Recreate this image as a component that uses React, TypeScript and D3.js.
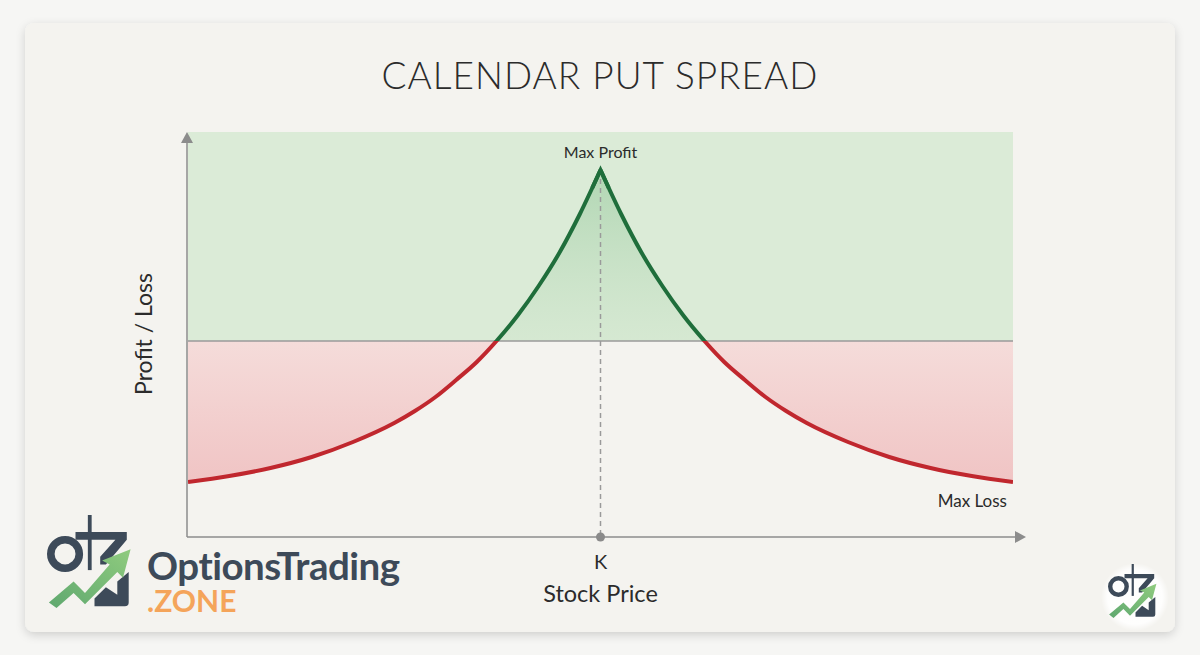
import React from "react";
import * as d3 from "d3";

// ---- Data ----
const title = "CALENDAR PUT SPREAD";
const strike = 100;
const priceDomain = [50, 150];
const plDomain = [-1.96, 2.09];

// Left wing of the P/L curve
const leftPrices = [50, 55, 60, 65, 70, 75, 77.5, 80, 82.5, 85, 87.5, 90, 92.5, 95, 97.5, 100];
const leftPL = [-1.41, -1.35, -1.27, -1.16, -1.01, -0.82, -0.7, -0.56, -0.39, -0.21, 0.01, 0.26, 0.55, 0.88, 1.27, 1.71];
// Right wing
const rightPrices = [100, 102.5, 105, 107.5, 110, 112.5, 115, 117.5, 120, 122.5, 125, 130, 135, 140, 145, 150];
const rightPL = [1.71, 1.27, 0.88, 0.55, 0.26, 0.01, -0.21, -0.39, -0.56, -0.7, -0.82, -1.01, -1.16, -1.27, -1.35, -1.41];

const labels = {
  yAxis: "Profit / Loss",
  xAxis: "Stock Price",
  strike: "K",
  maxProfit: "Max Profit",
  maxLoss: "Max Loss",
  brand1: "OptionsTrading",
  brand2: ".ZONE",
};

const FONT = "Lato, 'Open Sans', sans-serif";

function Logo({ x, y, s, id }: { x: number; y: number; s: number; id: string }) {
  return (
    <g transform={`translate(${x},${y}) scale(${s})`}>
      <defs>
        <linearGradient id={`arrowG${id}`} x1="0" y1="1" x2="1" y2="0">
          <stop offset="0" stopColor="#5fa86f" />
          <stop offset="1" stopColor="#8fcb7e" />
        </linearGradient>
      </defs>
      {/* stem */}
      <rect x={43} y={0} width={4} height={58} fill="#3d4a59" />
      {/* O */}
      <ellipse cx={19} cy={41} rx={15} ry={15} fill="none" stroke="#3d4a59" strokeWidth={8} />
      {/* top bar + Z */}
      <path d="M30 18 L84 18 L84 26 L62 52 L56 52 L56 44 L72 26 L30 26 Z" fill="#3d4a59" />
      {/* dark base */}
      <path d="M50 96 L82 96 Q86 96 86 92 L86 60 L74 70 L74 84 L62 76 L50 88 Z" fill="#3d4a59" />
      {/* green arrow */}
      <path
        d="M2 92 L28 70 L40 82 L66 52 L58 48 L88 36 L80 66 L74 60 L40 94 L28 82 L10 98 Z"
        fill={`url(#arrowG${id})`}
      />
    </g>
  );
}

export default function App() {
  const W = 1200;
  const H = 655;
  const x = d3.scaleLinear().domain(priceDomain).range([188, 1013]);
  const y = d3.scaleLinear().domain(plDomain).range([537, 132]);
  const y0 = y(0);

  const left = leftPrices.map((p, i) => [p, leftPL[i]] as [number, number]);
  const right = rightPrices.map((p, i) => [p, rightPL[i]] as [number, number]);

  const line = d3
    .line<[number, number]>()
    .x((d) => x(d[0]))
    .y((d) => y(d[1]))
    .curve(d3.curveMonotoneX);
  const area = d3
    .area<[number, number]>()
    .x((d) => x(d[0]))
    .y0(y0)
    .y1((d) => y(d[1]))
    .curve(d3.curveMonotoneX);

  const peakY = y(d3.max(leftPL) as number);
  const xK = x(strike);
  const axisColor = "#8c8c8c";
  const bandX0 = x(priceDomain[0]);
  const bandW = x(priceDomain[1]) - bandX0;

  return (
    <div style={{ position: "fixed", left: 0, top: 0, width: W, height: H, background: "#f6f6f4" }}>
      <svg width={W} height={H} style={{ display: "block" }}>
        <defs>
          <filter id="shadow" x="-5%" y="-5%" width="110%" height="115%">
            <feDropShadow dx="0" dy="3" stdDeviation="5" floodColor="#000" floodOpacity="0.16" />
          </filter>
          <clipPath id="above">
            <rect x={bandX0} y={120} width={bandW} height={y0 - 120} />
          </clipPath>
          <clipPath id="below">
            <rect x={bandX0} y={y0} width={bandW} height={537 - y0} />
          </clipPath>
          <linearGradient id="peakFill" x1="0" y1={peakY} x2="0" y2={y0} gradientUnits="userSpaceOnUse">
            <stop offset="0" stopColor="#a6d1aa" stopOpacity="0.8" />
            <stop offset="1" stopColor="#cde4ca" stopOpacity="0.4" />
          </linearGradient>
          <linearGradient id="lossFill" x1="0" y1={y0} x2="0" y2={y(-1.41)} gradientUnits="userSpaceOnUse">
            <stop offset="0" stopColor="#f5dcda" />
            <stop offset="1" stopColor="#f0c4c4" />
          </linearGradient>
          <radialGradient id="bubble" cx="0.5" cy="0.5" r="0.5">
            <stop offset="0.8" stopColor="#ffffff" stopOpacity="0.9" />
            <stop offset="1" stopColor="#ffffff" stopOpacity="0" />
          </radialGradient>
        </defs>

        {/* card */}
        <rect x={25} y={23} width={1150} height={609} rx={9} fill="#f4f3ef" filter="url(#shadow)" />

        {/* title */}
        <text x={600} y={89} textAnchor="middle" fontFamily={FONT} fontWeight={300} fontSize={37} fill="#2b2b2b" letterSpacing={1}>
          {title}
        </text>

        {/* profit band */}
        <rect x={bandX0} y={132} width={bandW} height={y0 - 132} fill="#dbebd7" />

        {/* fills */}
        <g clipPath="url(#above)">
          <path d={area(left) || ""} fill="url(#peakFill)" />
          <path d={area(right) || ""} fill="url(#peakFill)" />
        </g>
        <g clipPath="url(#below)">
          <path d={area(left) || ""} fill="url(#lossFill)" />
          <path d={area(right) || ""} fill="url(#lossFill)" />
        </g>

        {/* zero line */}
        <line x1={bandX0} x2={bandX0 + bandW} y1={y0} y2={y0} stroke="#9a9a9a" strokeWidth={1.3} />

        {/* strike dashed line */}
        <line x1={xK} x2={xK} y1={peakY} y2={537} stroke="#9a9a9a" strokeWidth={1.5} strokeDasharray="5,4" />

        {/* curve */}
        <g clipPath="url(#above)">
          <path d={line(left) || ""} fill="none" stroke="#1f6e3b" strokeWidth={4} />
          <path d={line(right) || ""} fill="none" stroke="#1f6e3b" strokeWidth={4} />
        </g>
        <g clipPath="url(#below)">
          <path d={line(left) || ""} fill="none" stroke="#c0272e" strokeWidth={4} />
          <path d={line(right) || ""} fill="none" stroke="#c0272e" strokeWidth={4} />
        </g>
        <path
          d={`M${x(99)},${y(1.53)} L${xK},${peakY} L${x(101)},${y(1.53)}`}
          fill="none"
          stroke="#1f6e3b"
          strokeWidth={4}
          strokeLinejoin="miter"
          strokeMiterlimit={10}
        />

        {/* axes */}
        <line x1={187} x2={187} y1={537} y2={142} stroke={axisColor} strokeWidth={1.5} />
        <path d="M187,132 L181,143 L193,143 Z" fill={axisColor} />
        <line x1={187} x2={1016} y1={537} y2={537} stroke={axisColor} strokeWidth={1.5} />
        <path d="M1026,537 L1015,531 L1015,543 Z" fill={axisColor} />
        <circle cx={xK} cy={537} r={4.5} fill="#8a8a8a" />

        {/* labels */}
        <text x={xK} y={158} textAnchor="middle" fontFamily={FONT} fontSize={16} fill="#2b2b2b">
          {labels.maxProfit}
        </text>
        <text x={1007} y={507} textAnchor="end" fontFamily={FONT} fontSize={17} fill="#2b2b2b">
          {labels.maxLoss}
        </text>
        <text x={xK} y={569} textAnchor="middle" fontFamily={FONT} fontSize={20} fill="#2b2b2b">
          {labels.strike}
        </text>
        <text x={xK} y={602} textAnchor="middle" fontFamily={FONT} fontSize={23.5} fill="#2b2b2b">
          {labels.xAxis}
        </text>
        <text
          transform={`translate(152,334) rotate(-90)`}
          textAnchor="middle"
          fontFamily={FONT}
          fontSize={23}
          fill="#2b2b2b"
        >
          {labels.yAxis}
        </text>

        {/* brand bottom-left */}
        <Logo x={47} y={515} s={0.95} id="a" />
        <text x={147} y={580} fontFamily={FONT} fontWeight={700} fontSize={38.5} fill="#3d4a59" letterSpacing={-0.5}>
          {labels.brand1}
        </text>
        <text x={147} y={612} fontFamily={FONT} fontWeight={700} fontSize={30} fill="#f4a45a">
          {labels.brand2}
        </text>

        {/* brand bottom-right */}
        <circle cx={1135} cy={597} r={34} fill="url(#bubble)" />
        <Logo x={1108} y={564} s={0.55} id="b" />
      </svg>
    </div>
  );
}
